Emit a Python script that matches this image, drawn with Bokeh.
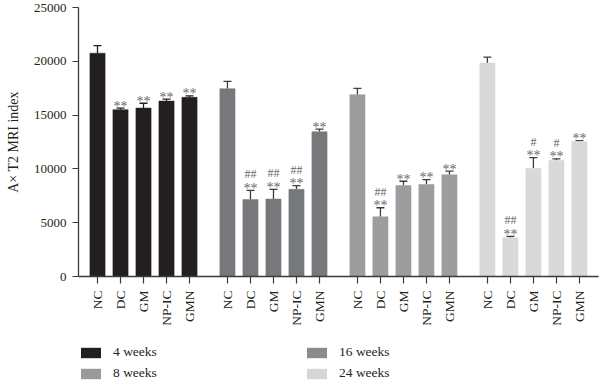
import math
from bokeh.plotting import figure
from bokeh.layouts import column
from bokeh.models import (ColumnDataSource, FixedTicker, Whisker, TeeHead,
                          Legend, LegendItem, Range1d)
from bokeh.core.properties import value
from bokeh.embed import file_html
from bokeh.resources import INLINE

# ---------------- data ----------------
groups = ["4 weeks", "8 weeks", "16 weeks", "24 weeks"]
categories = ["NC", "DC", "GM", "NP-IC", "GMN"]

means_4w = [20750, 15500, 15650, 16300, 16650]
err_4w = [700, 150, 450, 180, 130]
means_8w = [17450, 7150, 7200, 8100, 13450]
err_8w = [680, 850, 900, 340, 250]
means_16w = [16900, 5550, 8450, 8550, 9450]
err_16w = [590, 840, 400, 460, 340]
means_24w = [19850, 3600, 10050, 10780, 12550]
err_24w = [530, 120, 1000, 160, 70]

stars_4w = ["", "**", "**", "**", "**"]
stars_8w = ["", "**", "**", "**", "**"]
stars_16w = ["", "**", "**", "**", "**"]
stars_24w = ["", "**", "**", "**", "**"]
hash_4w = ["", "", "", "", ""]
hash_8w = ["", "##", "##", "##", ""]
hash_16w = ["", "##", "", "", ""]
hash_24w = ["", "##", "#", "#", ""]

y_ticks = [0, 5000, 10000, 15000, 20000, 25000]

bar_colors = ["#231f20", "#77787b", "#9c9d9f", "#d9d9da"]
err_colors = ["#231f20", "#3c3c3e", "#3c3c3e", "#3c3c3e"]
legend_colors = ["#231f20", "#9a9a9c", "#8b8b8d", "#d6d6d7"]

means = [means_4w, means_8w, means_16w, means_24w]
errs = [err_4w, err_8w, err_16w, err_24w]
stars = [stars_4w, stars_8w, stars_16w, stars_24w]
hashes = [hash_4w, hash_8w, hash_16w, hash_24w]

GROUP_STEP = 5.65
SERIF = "Liberation Serif"
INK = "#231f20"
MARK = "#6a6a6c"

p = figure(width=600, height=328, output_backend="svg", toolbar_location=None,
           x_range=Range1d(-0.826, 21.78), y_range=Range1d(0, 25000),
           min_border_left=78, min_border_right=2, min_border_top=7,
           min_border_bottom=52)
p.outline_line_color = None
p.xgrid.visible = False
p.ygrid.visible = False

tick_pos = []
overrides = {}
for g, grp in enumerate(groups):
    xs = [g * GROUP_STEP + i for i in range(len(categories))]
    tops = [m + e for m, e in zip(means[g], errs[g])]
    src = ColumnDataSource(dict(x=xs, top=means[g], upper=tops,
                                star=stars[g], hash=hashes[g]))
    p.vbar(x="x", top="top", width=0.66, bottom=0, source=src,
           fill_color=bar_colors[g], line_color=bar_colors[g], line_width=0.5)
    w = Whisker(base="x", upper="upper", lower="top", source=src,
                line_color=err_colors[g], line_width=1.3,
                upper_head=TeeHead(size=8, line_color=err_colors[g], line_width=1.3),
                lower_head=None)
    p.add_layout(w)
    p.text(x="x", y="upper", text="star", source=src, text_align="center",
           text_baseline="alphabetic", y_offset=-2,
           text_font=value(SERIF), text_font_size="14px", text_color=MARK)
    p.text(x="x", y="upper", text="hash", source=src, text_align="center",
           text_baseline="alphabetic", y_offset=-16,
           text_font=value(SERIF), text_font_size="12px", text_color=MARK)
    for x, c in zip(xs, categories):
        tick_pos.append(x)
        overrides[x] = c

# axes
p.xaxis.ticker = FixedTicker(ticks=tick_pos)
p.xaxis.major_label_overrides = overrides
p.xaxis.major_label_orientation = math.pi / 2
p.xaxis.major_label_text_font = SERIF
p.xaxis.major_label_text_font_size = "13.5px"
p.xaxis.major_label_text_color = INK
p.xaxis.major_label_standoff = 7
p.xaxis.minor_tick_line_color = None
p.xaxis.major_tick_out = 7
p.xaxis.major_tick_in = 0

p.yaxis.ticker = FixedTicker(ticks=y_ticks)
p.yaxis.major_label_text_font = SERIF
p.yaxis.major_label_text_font_size = "13px"
p.yaxis.major_label_text_color = INK
p.yaxis.major_label_standoff = 6
p.yaxis.minor_tick_line_color = None
p.yaxis.major_tick_out = 6
p.yaxis.major_tick_in = 0
p.yaxis.axis_label = "A× T2 MRI index"
p.yaxis.axis_label_text_font = SERIF
p.yaxis.axis_label_text_font_size = "14px"
p.yaxis.axis_label_text_font_style = "normal"
p.yaxis.axis_label_text_color = INK
p.yaxis.axis_label_standoff = 10

for ax in (p.xaxis, p.yaxis):
    ax.axis_line_color = "#3a3a3a"
    ax.axis_line_width = 1.3
    ax.major_tick_line_color = "#3a3a3a"
    ax.major_tick_line_width = 1.2

# legend figure (swatches from zero-height placeholder bars)
pl = figure(width=600, height=54, output_backend="svg", toolbar_location=None,
            x_range=Range1d(0, 1), y_range=Range1d(0, 1),
            x_axis_location=None, y_axis_location=None,
            min_border_left=69, min_border_right=0, min_border_top=0,
            min_border_bottom=0)
pl.outline_line_color = None
pl.xgrid.visible = False
pl.ygrid.visible = False
items = []
for grp, col in zip(groups, legend_colors):
    r = pl.vbar(x=[0.5], top=[0], bottom=[0], width=0.01,
                fill_color=col, line_color=None)
    items.append(LegendItem(label=grp, renderers=[r]))
legend = Legend(items=items, location=(0, 1), orientation="vertical",
                ncols=2, glyph_width=25, glyph_height=13, label_height=13,
                label_standoff=10, label_width=186, spacing=5, padding=0,
                margin=0, border_line_color=None, background_fill_alpha=0,
                label_text_font=SERIF, label_text_font_size="13.5px",
                label_text_color=INK)
pl.add_layout(legend, "center")

layout = column(p, pl, spacing=0)
open("out.html", "w").write(file_html(layout, INLINE))
